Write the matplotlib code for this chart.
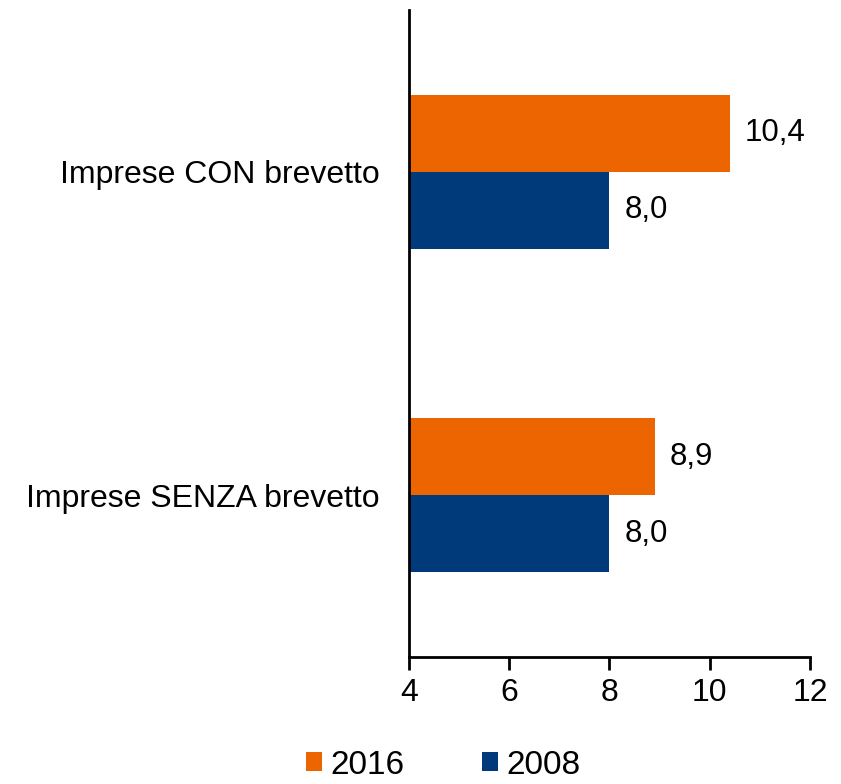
import matplotlib.pyplot as plt
import numpy as np

plt.rcParams['font.family'] = ['Liberation Sans', 'DejaVu Sans']

# data
categories = ["Imprese CON brevetto", "Imprese SENZA brevetto"]
years = ["2016", "2008"]
val_2016 = [10.4, 8.9]
val_2008 = [8.0, 8.0]
colors = ["#EC6500", "#003A7A"]

fig = plt.figure(figsize=(8.41, 7.84), dpi=100)
ax = fig.add_axes([0.4863, 0.162, 0.4768, 0.8252])

y = np.arange(len(categories))
h = 0.238
base = 4
b1 = ax.barh(y - h / 2, np.array(val_2016) - base, height=h, left=base,
             color=colors[0], label=years[0])
b2 = ax.barh(y + h / 2, np.array(val_2008) - base, height=h, left=base,
             color=colors[1], label=years[1])

for bars, vals in [(b1, val_2016), (b2, val_2008)]:
    for rect, v in zip(bars, vals):
        ax.text(v + 0.3, rect.get_y() + rect.get_height() / 2,
                f"{v:.1f}".replace(".", ","), va="center", ha="left", fontsize=22.5)

ax.set_xlim(4, 12)
ax.set_xticks([4, 6, 8, 10, 12])
ax.set_ylim(1.5, -0.5)
ax.set_yticks(y)
ax.set_yticklabels(categories)
ax.tick_params(axis="y", length=0, pad=21, labelsize=23)
ax.tick_params(axis="x", length=9, width=2, labelsize=23, pad=6)
for s in ["top", "right"]:
    ax.spines[s].set_visible(False)
for s in ["left", "bottom"]:
    ax.spines[s].set_linewidth(2)

fig.legend(handles=[b1, b2], labels=years, loc="center", bbox_to_anchor=(0.527, 0.024),
           ncol=2, frameon=False, fontsize=24, handlelength=0.5, handleheight=0.5,
           handletextpad=0.25, columnspacing=2.3)

fig.savefig("out.png", dpi=100)
